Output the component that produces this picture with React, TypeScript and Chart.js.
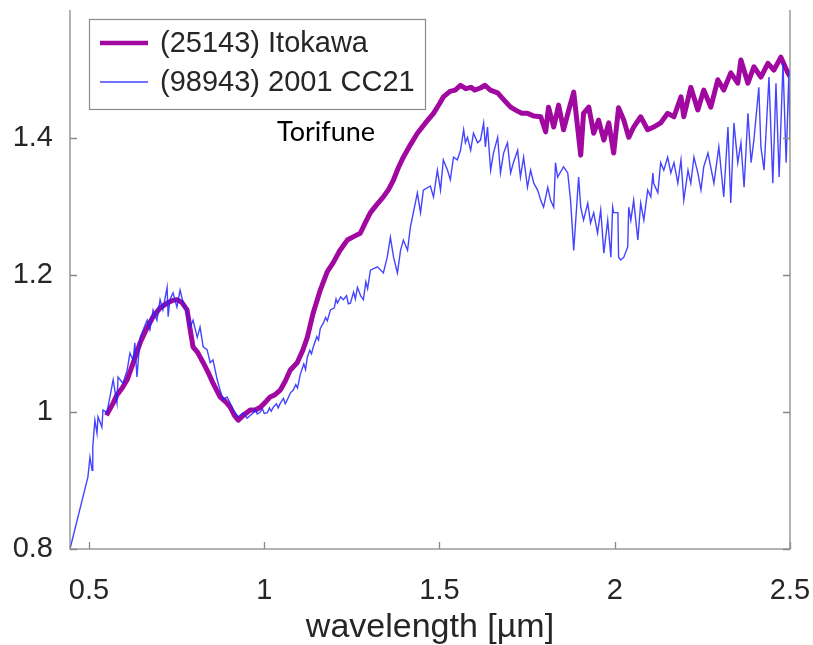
import React, { useEffect, useRef } from "react";
import { Chart, registerables } from "chart.js";

Chart.register(...registerables);

const wavelengthTicks = [0.5, 1, 1.5, 2, 2.5];
const reflectanceTicks = [0.8, 1, 1.2, 1.4, 1.6];

const seriesNames = ["(25143) Itokawa", "(98943) 2001 CC21"];
const annotationText = "Torifune";
const xTitle = "wavelength [\u00b5m]";

// [wavelength µm, reflectance]
const itokawaSpectrum = [
  [0.55, 0.995], [0.569, 1.013], [0.58, 1.025], [0.595, 1.035], [0.609, 1.047], [0.625, 1.07], [0.646, 1.101],
  [0.665, 1.122], [0.683, 1.139], [0.703, 1.152], [0.723, 1.159], [0.74, 1.163], [0.751, 1.164], [0.765, 1.16],
  [0.78, 1.149], [0.789, 1.12], [0.797, 1.095], [0.81, 1.087], [0.826, 1.072], [0.84, 1.058], [0.854, 1.042],
  [0.874, 1.022], [0.89, 1.015], [0.903, 1.007], [0.915, 0.995], [0.926, 0.988], [0.94, 0.995], [0.96, 1.003],
  [0.975, 1.003], [0.989, 1.007], [1.003, 1.014], [1.017, 1.022], [1.03, 1.025], [1.046, 1.032], [1.06, 1.045],
  [1.074, 1.061], [1.094, 1.072], [1.11, 1.09], [1.123, 1.109], [1.14, 1.145], [1.16, 1.178], [1.18, 1.205],
  [1.197, 1.218], [1.215, 1.235], [1.237, 1.251], [1.255, 1.256], [1.274, 1.261], [1.29, 1.278], [1.303, 1.291],
  [1.32, 1.302], [1.34, 1.314], [1.355, 1.325], [1.369, 1.339], [1.383, 1.357], [1.397, 1.372], [1.417, 1.39],
  [1.437, 1.407], [1.46, 1.422], [1.483, 1.436], [1.5, 1.45], [1.511, 1.46], [1.53, 1.468], [1.545, 1.47],
  [1.56, 1.477], [1.575, 1.472], [1.59, 1.474], [1.6, 1.47], [1.617, 1.473], [1.63, 1.477], [1.645, 1.47],
  [1.666, 1.466], [1.685, 1.455], [1.703, 1.445], [1.72, 1.44], [1.735, 1.436], [1.751, 1.436], [1.77, 1.432],
  [1.789, 1.431], [1.803, 1.409], [1.811, 1.445], [1.826, 1.416], [1.84, 1.448], [1.854, 1.412], [1.869, 1.441],
  [1.883, 1.467], [1.894, 1.416], [1.903, 1.375], [1.911, 1.436], [1.926, 1.445], [1.94, 1.407], [1.954, 1.426],
  [1.969, 1.397], [1.983, 1.422], [1.997, 1.378], [2.011, 1.444], [2.026, 1.426], [2.04, 1.401], [2.054, 1.416],
  [2.074, 1.431], [2.094, 1.412], [2.111, 1.416], [2.131, 1.422], [2.151, 1.436], [2.169, 1.431], [2.189, 1.46],
  [2.197, 1.431], [2.217, 1.474], [2.237, 1.441], [2.254, 1.47], [2.274, 1.445], [2.294, 1.485], [2.311, 1.47],
  [2.331, 1.495], [2.351, 1.48], [2.36, 1.514], [2.38, 1.48], [2.397, 1.504], [2.417, 1.489], [2.437, 1.509],
  [2.454, 1.499], [2.474, 1.518], [2.494, 1.495], [2.5, 1.49],
];

const cc21Spectrum = [
  [0.446, 0.8], [0.497, 0.905], [0.503, 0.934], [0.509, 0.915], [0.511, 0.949], [0.517, 0.988], [0.523, 0.969],
  [0.526, 0.993], [0.537, 0.978], [0.54, 1.003], [0.551, 0.999], [0.56, 1.022], [0.569, 1.047], [0.58, 1.013],
  [0.583, 1.051], [0.597, 1.042], [0.609, 1.061], [0.617, 1.086], [0.626, 1.076], [0.631, 1.101], [0.637, 1.051],
  [0.646, 1.109], [0.666, 1.134], [0.674, 1.12], [0.683, 1.149], [0.694, 1.134], [0.703, 1.164], [0.711, 1.149],
  [0.723, 1.182], [0.726, 1.139], [0.731, 1.164], [0.74, 1.174], [0.751, 1.153], [0.76, 1.178], [0.769, 1.159],
  [0.78, 1.145], [0.789, 1.124], [0.797, 1.134], [0.809, 1.109], [0.817, 1.124], [0.826, 1.095], [0.837, 1.091],
  [0.846, 1.072], [0.854, 1.076], [0.866, 1.047], [0.874, 1.032], [0.883, 1.018], [0.894, 1.022], [0.903, 1.013],
  [0.911, 1.003], [0.926, 0.993], [0.94, 0.999], [0.951, 0.991], [0.969, 0.999], [0.975, 1.004], [0.98, 0.997],
  [0.989, 1.0], [0.995, 1.005], [1.0, 0.998], [1.009, 0.999], [1.015, 1.006], [1.02, 1.001], [1.026, 1.007],
  [1.035, 1.012], [1.04, 1.006], [1.046, 1.013], [1.055, 1.02], [1.06, 1.012], [1.066, 1.018], [1.075, 1.028],
  [1.083, 1.032], [1.09, 1.04], [1.095, 1.035], [1.103, 1.055], [1.113, 1.07], [1.118, 1.062], [1.123, 1.08],
  [1.13, 1.09], [1.135, 1.085], [1.14, 1.095], [1.15, 1.11], [1.155, 1.105], [1.16, 1.122], [1.169, 1.13],
  [1.175, 1.138], [1.18, 1.133], [1.189, 1.149], [1.2, 1.152], [1.205, 1.165], [1.209, 1.159], [1.218, 1.168],
  [1.226, 1.164], [1.235, 1.17], [1.24, 1.158], [1.246, 1.159], [1.255, 1.175], [1.26, 1.165], [1.266, 1.182],
  [1.275, 1.17], [1.283, 1.164], [1.29, 1.19], [1.295, 1.18], [1.303, 1.207], [1.323, 1.212], [1.34, 1.203],
  [1.351, 1.226], [1.36, 1.255], [1.369, 1.226], [1.38, 1.203], [1.389, 1.236], [1.397, 1.251], [1.409, 1.236],
  [1.417, 1.27], [1.437, 1.32], [1.446, 1.291], [1.454, 1.324], [1.474, 1.33], [1.483, 1.314], [1.494, 1.353],
  [1.503, 1.324], [1.511, 1.368], [1.523, 1.353], [1.531, 1.339], [1.54, 1.372], [1.551, 1.368], [1.56, 1.382],
  [1.569, 1.412], [1.574, 1.393], [1.58, 1.401], [1.589, 1.382], [1.597, 1.407], [1.609, 1.393], [1.617, 1.397],
  [1.626, 1.422], [1.631, 1.387], [1.637, 1.416], [1.646, 1.353], [1.654, 1.378], [1.666, 1.401], [1.674, 1.349],
  [1.683, 1.378], [1.694, 1.393], [1.703, 1.349], [1.711, 1.364], [1.723, 1.382], [1.731, 1.343], [1.74, 1.372],
  [1.751, 1.328], [1.76, 1.353], [1.769, 1.334], [1.78, 1.324], [1.789, 1.309], [1.797, 1.299], [1.809, 1.328],
  [1.817, 1.309], [1.826, 1.299], [1.831, 1.364], [1.837, 1.343], [1.854, 1.358], [1.866, 1.349], [1.874, 1.309],
  [1.883, 1.236], [1.897, 1.343], [1.903, 1.299], [1.911, 1.28], [1.923, 1.305], [1.931, 1.276], [1.94, 1.291],
  [1.951, 1.261], [1.96, 1.295], [1.969, 1.232], [1.98, 1.28], [1.989, 1.226], [1.994, 1.299], [1.997, 1.291],
  [2.009, 1.291], [2.011, 1.226], [2.017, 1.222], [2.026, 1.226], [2.037, 1.241], [2.04, 1.299], [2.046, 1.28],
  [2.054, 1.309], [2.066, 1.251], [2.074, 1.305], [2.083, 1.28], [2.094, 1.324], [2.103, 1.314], [2.109, 1.349],
  [2.111, 1.334], [2.123, 1.32], [2.131, 1.364], [2.14, 1.353], [2.151, 1.372], [2.16, 1.349], [2.169, 1.364],
  [2.18, 1.334], [2.189, 1.368], [2.197, 1.309], [2.209, 1.353], [2.217, 1.334], [2.226, 1.372], [2.237, 1.349],
  [2.246, 1.324], [2.254, 1.358], [2.266, 1.378], [2.283, 1.334], [2.297, 1.387], [2.311, 1.314], [2.323, 1.416],
  [2.331, 1.305], [2.34, 1.422], [2.351, 1.364], [2.36, 1.393], [2.369, 1.328], [2.38, 1.436], [2.389, 1.364],
  [2.397, 1.397], [2.411, 1.474], [2.417, 1.387], [2.426, 1.353], [2.44, 1.489], [2.451, 1.334], [2.46, 1.48],
  [2.469, 1.343], [2.48, 1.509], [2.489, 1.364], [2.497, 1.499], [2.5, 1.397],
];

const PURPLE = "#a0089f";
const BLUE = "rgba(35, 35, 255, 0.85)";
const AXIS = "#8a8a8a";
const TEXT = "#262626";
const FONT = "'Liberation Sans', Arial, sans-serif";

const framePlugin = {
  id: "frame",
  afterDraw(chart: any) {
    const { ctx, chartArea: a, scales } = chart;
    const tl = 7;
    ctx.save();
    ctx.strokeStyle = AXIS;
    ctx.lineWidth = 1.3;
    ctx.strokeRect(a.left, a.top, a.right - a.left, a.bottom - a.top);
    ctx.beginPath();
    wavelengthTicks.forEach((v) => {
      const px = Math.round(scales.x.getPixelForValue(v)) + 0.5;
      ctx.moveTo(px, a.bottom);
      ctx.lineTo(px, a.bottom - tl);
      ctx.moveTo(px, a.top);
      ctx.lineTo(px, a.top + tl);
    });
    reflectanceTicks.forEach((v) => {
      const py = Math.round(scales.y.getPixelForValue(v)) + 0.5;
      ctx.moveTo(a.left, py);
      ctx.lineTo(a.left + tl, py);
      ctx.moveTo(a.right, py);
      ctx.lineTo(a.right - tl, py);
    });
    ctx.stroke();

    // legend
    const bx = a.left + 19;
    const by = a.top + 18;
    const bw = 336;
    const bh = 90;
    ctx.fillStyle = "#ffffff";
    ctx.fillRect(bx, by, bw, bh);
    ctx.strokeStyle = AXIS;
    ctx.lineWidth = 1.2;
    ctx.strokeRect(bx + 0.5, by + 0.5, bw, bh);
    const rows = [24, 63];
    chart.data.datasets.forEach((ds: any, i: number) => {
      const yy = by + rows[i];
      ctx.strokeStyle = ds.borderColor;
      ctx.lineWidth = i === 0 ? 4.5 : 1.5;
      ctx.beginPath();
      ctx.moveTo(bx + 11, yy);
      ctx.lineTo(bx + 59, yy);
      ctx.stroke();
      ctx.fillStyle = TEXT;
      ctx.font = `29px ${FONT}`;
      ctx.textBaseline = "middle";
      ctx.textAlign = "left";
      ctx.fillText(ds.label, bx + 71, yy + 1);
    });

    // annotation
    ctx.fillStyle = "#000000";
    ctx.font = "27px Lato, 'Open Sans', sans-serif";
    ctx.textBaseline = "middle";
    ctx.fillText(annotationText, a.left + 207, a.top + 131);

    // cropped top strip
    ctx.fillStyle = "#ffffff";
    ctx.fillRect(0, 0, chart.width, a.top + 9);
    ctx.restore();
  },
};

const zeroPadding = (s: any) => {
  s.paddingTop = 0;
  s.paddingBottom = 0;
  s.paddingLeft = 0;
  s.paddingRight = 0;
};

export default function App() {
  const ref = useRef<HTMLCanvasElement | null>(null);
  useEffect(() => {
    document.body.style.overflow = "hidden";
    const canvas = ref.current;
    if (!canvas) return;
    const chart = new Chart(canvas, {
      type: "line",
      data: {
        datasets: [
          {
            label: seriesNames[0],
            data: itokawaSpectrum.map(([x, y]) => ({ x, y })),
            borderColor: PURPLE,
            borderWidth: 5,
            pointRadius: 0,
            tension: 0,
            order: 2,
            borderJoinStyle: "round",
          },
          {
            label: seriesNames[1],
            data: cc21Spectrum.map(([x, y]) => ({ x, y })),
            borderColor: BLUE,
            borderWidth: 1.4,
            pointRadius: 0,
            tension: 0,
            order: 1,
          },
        ],
      },
      options: {
        animation: false,
        responsive: false,
        devicePixelRatio: 1,
        layout: { padding: { top: 21, right: 23, left: 0, bottom: 0 } },
        plugins: { legend: { display: false }, tooltip: { enabled: false } },
        scales: {
          x: {
            type: "linear",
            min: 0.446,
            max: 2.5,
            afterBuildTicks: (s: any) => {
              s.ticks = wavelengthTicks.map((v) => ({ value: v }));
            },
            afterFit: (s: any) => {
              s.height = 96;
              zeroPadding(s);
            },
            grid: { display: false, drawTicks: false },
            border: { display: false },
            ticks: {
              color: TEXT,
              font: { family: FONT, size: 29 },
              padding: 25,
              maxRotation: 0,
              autoSkip: false,
              callback: (v: any) => String(v),
            },
            title: {
              display: true,
              text: xTitle,
              color: TEXT,
              font: { family: FONT, size: 34, lineHeight: 1 },
              padding: { top: 0, bottom: 0 },
            },
          },
          y: {
            type: "linear",
            min: 0.8,
            max: 1.6,
            afterBuildTicks: (s: any) => {
              s.ticks = reflectanceTicks.map((v) => ({ value: v }));
            },
            afterFit: (s: any) => {
              s.width = 70;
              zeroPadding(s);
            },
            grid: { display: false, drawTicks: false },
            border: { display: false },
            ticks: {
              color: TEXT,
              font: { family: FONT, size: 29 },
              padding: 17,
              autoSkip: false,
              callback: (v: any) => String(v),
            },
          },
        },
      },
      plugins: [framePlugin],
    });
    return () => chart.destroy();
  }, []);
  return (
    <div style={{ position: "absolute", left: 0, top: -20, width: 813, height: 665 }}>
      <canvas ref={ref} width={813} height={665} style={{ display: "block" }} />
    </div>
  );
}
